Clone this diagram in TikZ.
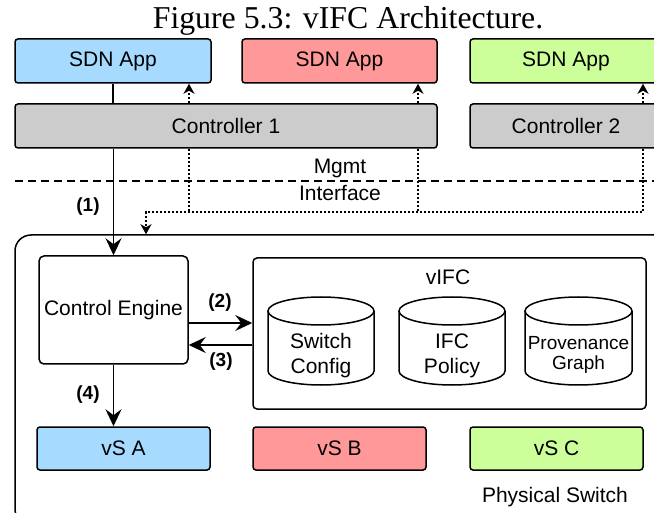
\documentclass[tikz,border=0pt]{standalone}
\usepackage{fontspec}
\setmainfont{Liberation Sans}
\newfontfamily\titlefont{Liberation Serif}
\usetikzlibrary{arrows.meta}
\definecolor{appblue}{HTML}{A6DBFF}
\definecolor{appred}{HTML}{FF9999}
\definecolor{appgreen}{HTML}{CCFF99}
\definecolor{ctrlgray}{HTML}{CCCCCC}
\begin{document}
\begin{tikzpicture}[x=1pt,y=-1pt,
  box/.style={draw=black, line width=1.5pt, rounded corners=3pt, inner sep=0pt, font=\fontsize{21}{25}\selectfont},
  txt/.style={inner sep=0pt, font=\fontsize{21}{25}\selectfont, align=center},
  lab/.style={inner sep=0pt, font=\bfseries\fontsize{19}{23}\selectfont},
  plain/.style={line width=1.5pt},
  solidarrow/.style={line width=1.5pt, -{Stealth[length=17pt,width=16pt,inset=6pt]}},
  dotline/.style={line width=1.5pt, dash pattern=on 2pt off 2pt},
  dotarrow/.style={line width=1.5pt, dash pattern=on 2pt off 2pt, -{Stealth[length=10pt,width=11pt,inset=3pt]}},
  cylst/.style={line width=1.5pt}]
\path[use as bounding box] (0,0) rectangle (654,513);
\clip (0,0) rectangle (654,513);

% title
\node[inner sep=0pt, anchor=base, font=\titlefont\fontsize{31.8}{36}\selectfont] (title) at (348,29) {Figure 5.3: vIFC Architecture.};

% apps and controllers
\node[box, fill=appblue, minimum width=196pt, minimum height=44pt] (appA) at (113,61) {SDN App};
\node[box, fill=appred, minimum width=195pt, minimum height=44pt] (appB) at (339.5,61) {SDN App};
\node[box, fill=appgreen, minimum width=192pt, minimum height=44pt] (appC) at (566,61) {SDN App};
\node[box, fill=ctrlgray, minimum width=422pt, minimum height=44pt] (ctrl1) at (226,126) {Controller 1};
\node[box, fill=ctrlgray, minimum width=192pt, minimum height=44pt] (ctrl2) at (566,126) {Controller 2};

% management interface
\coordinate (dl) at (15,181);
\coordinate (dr) at (660,181);
\draw[line width=1.5pt, dash pattern=on 8pt off 5pt] (dl) -- (dr);
\node[txt] (mgmt) at (340,168) {Mgmt};
\node[txt] (iface) at (340,193) {Interface};

% physical switch
\node[draw, line width=1.5pt, rounded corners=16pt, minimum width=655pt, minimum height=290pt, inner sep=0pt] (phys) at (342.5,380) {};
\node[txt] (physlab) at (555,497) {Physical Switch};

% control engine
\node[box, rounded corners=5pt, fill=white, minimum width=149pt, minimum height=108pt] (CE) at (113.5,310) {Control Engine};

% vIFC
\node[box, rounded corners=4pt, minimum width=393pt, minimum height=151pt] (vifc) at (449.5,333.5) {};
\node[txt] (vifclab) at (448,277) {vIFC};

% cylinders
\draw[cylst] (268,311) -- (268,371) arc[start angle=180,end angle=0,x radius=53,y radius=14] -- (374,311);
\draw[cylst] (321,311) ellipse[x radius=53, y radius=14];
\draw[cylst] (399,311) -- (399,371) arc[start angle=180,end angle=0,x radius=53,y radius=14] -- (505,311);
\draw[cylst] (452,311) ellipse[x radius=53, y radius=14];
\draw[cylst] (525,311) -- (525,371) arc[start angle=180,end angle=0,x radius=53.5,y radius=14] -- (632,311);
\draw[cylst] (578.5,311) ellipse[x radius=53.5, y radius=14];
\node[txt] (sc) at (321,356) {Switch\\Config};
\node[txt] (ifc) at (452,356) {IFC\\Policy};
\node[txt, font=\fontsize{19}{20.5}\selectfont] (pg) at (578.5,355) {Provenance\\Graph};

% virtual switches
\node[box, fill=appblue, minimum width=173pt, minimum height=43pt] (vsA) at (123.5,448.5) {vS A};
\node[box, fill=appred, minimum width=173pt, minimum height=43pt] (vsB) at (339.5,448.5) {vS B};
\node[box, fill=appgreen, minimum width=173pt, minimum height=43pt] (vsC) at (556.5,448.5) {vS C};

% solid connectors
\draw[plain] (appA.south) -- (ctrl1.north -| appA.south);
\draw[solidarrow] (ctrl1.south -| CE.north) -- (CE.north);
\draw[solidarrow] (CE.south) -- (vsA.north -| CE.south);
\coordinate (y2) at (0,323);
\coordinate (y3) at (0,345);
\draw[solidarrow] (CE.east |- y2) -- (vifc.west |- y2);
\draw[solidarrow] (vifc.west |- y3) -- (CE.east |- y3);

% dotted connectors
\coordinate (xa) at (189,212);
\coordinate (xb) at (418,212);
\coordinate (xc) at (643,212);
\coordinate (xp) at (146,212);
\draw[dotarrow] (ctrl1.north -| xa) -- (appA.south -| xa);
\draw[dotarrow] (ctrl1.north -| xb) -- (appB.south -| xb);
\draw[dotarrow] (ctrl2.north -| xc) -- (appC.south -| xc);
\draw[dotline] (ctrl1.south -| xa) -- (xa);
\draw[dotline] (ctrl1.south -| xb) -- (xb);
\draw[dotarrow] (ctrl2.south -| xc) -- (xc) -- (xp) -- (xp |- phys.north);

% step labels
\node[lab] (l1) at (88,207) {(1)};
\node[lab] (l2) at (220,303) {(2)};
\node[lab] (l3) at (221,362) {(3)};
\node[lab] (l4) at (88,395) {(4)};
\end{tikzpicture}
\end{document}
